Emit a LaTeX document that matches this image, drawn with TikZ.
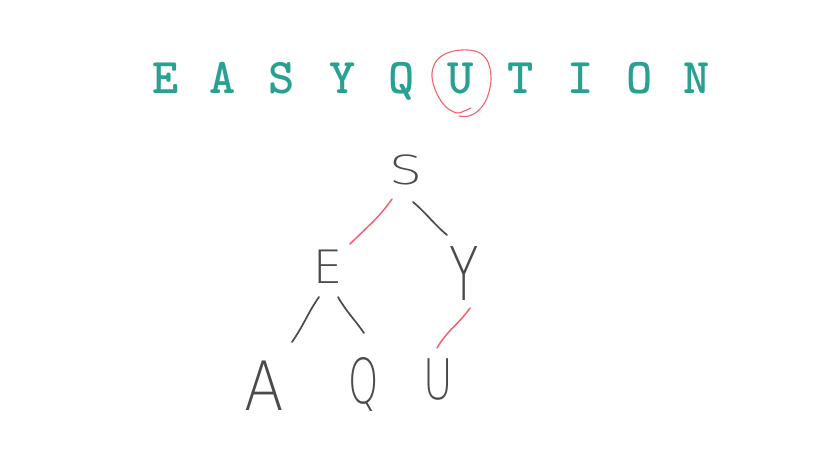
\documentclass[tikz,border=0pt]{standalone}
\usepackage{fontspec}
\usepackage{graphicx}
\setmainfont{DejaVu Sans}
\newfontfamily\handfont{DejaVu Sans ExtraLight}
\usetikzlibrary{calc}
\definecolor{teal1}{RGB}{42,160,146}
\definecolor{pen}{RGB}{75,75,75}
\definecolor{redpen}{RGB}{240,100,110}
\tikzset{
  top/.style={text=teal1, inner sep=0pt, anchor=base, font=\ttfamily\bfseries\fontsize{50}{50}\selectfont},
  hand/.style={text=pen, inner sep=0pt},
  grayedge/.style={draw=pen, line width=1.7pt, line cap=round, line join=round},
  redEdge/.style={draw=redpen, line width=1.5pt, line cap=round, line join=round},
}
\begin{document}
\begin{tikzpicture}[x=1pt,y=-1pt]
\useasboundingbox[fill=white] (0,0) rectangle (815,466);
% top word
\node[top] (t1) at (166,93) {E};
\node[top] (t2) at (223,93) {A};
\node[top] (t3) at (282,93) {S};
\node[top] (t4) at (343,93) {Y};
\node[top] (t5) at (402,93) {Q};
\node[top] (t6) at (461,93) {U};
\node[top] (t7) at (521,93) {T};
\node[top] (t8) at (581,93) {I};
\node[top] (t9) at (640,93) {O};
\node[top] (t10) at (697,93) {N};
% red circle round U
\draw[redEdge, line width=1.1pt] plot[smooth, tension=0.6] coordinates {(471,108) (464,111) (457,113) (446,107) (437,94) (432,77) (435,63) (445,54) (461,50) (478,52) (488,62) (491,80) (487,98) (479,110) (469,116) (459,116)};
% tree letters
\node[hand, font=\handfont\fontsize{40}{40}\selectfont] (S) at (406,170) {\scalebox{1.3}[1]{S}};
\node[hand, font=\handfont\fontsize{46}{46}\selectfont] (E) at (328,267) {E};
\node[hand, font=\handfont\fontsize{74}{74}\selectfont] (Y) at (464,274) {\scalebox{0.65}[1]{Y}};
\node[hand, font=\handfont\fontsize{68}{68}\selectfont] (A) at (264,386) {\scalebox{0.85}[1]{A}};
\node[hand, font=\handfont\fontsize{62}{62}\selectfont] (Q) at (364,384) {\scalebox{0.62}[1]{Q}};
\node[hand, font=\handfont\fontsize{56}{56}\selectfont] (U) at (438,379) {\scalebox{0.72}[1]{U}};
% edges
\draw[redEdge] ($(S)+(-14,29)$) to[out=-125,in=45] ($(E)+(22,-23)$);
\draw[grayedge] ($(S)+(7,32)$) to[out=-40,in=140] ($(Y)+(-17,-39)$);
\draw[grayedge] ($(E)+(-9,30)$) to[out=-125,in=55] ($(A)+(28,-44)$);
\draw[grayedge] ($(E)+(10,30)$) to[out=-60,in=125] ($(Q)+(0,-51)$);
\draw[redEdge] ($(Y)+(6,34)$) to[out=-125,in=60] ($(U)+(-1,-31)$);
\end{tikzpicture}
\end{document}
